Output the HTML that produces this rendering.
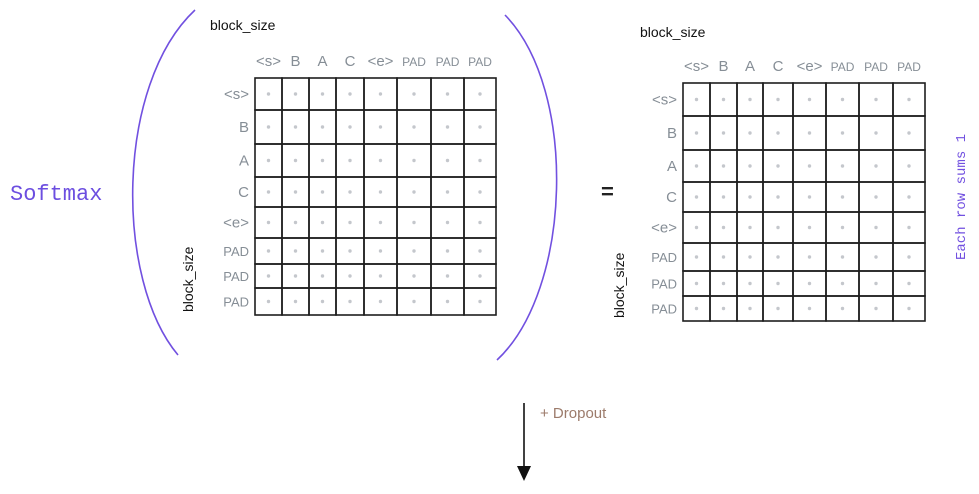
<!DOCTYPE html>
<html><head><meta charset="utf-8"><style>
body{margin:0;background:#fff;width:979px;height:489px;overflow:hidden}
svg text{font-family:"Liberation Sans",sans-serif}
</style></head><body>
<svg id="s" width="979" height="489">
<path d="M195,10 C115,85 115,280 178,355" fill="none" stroke="#7150e0" stroke-width="1.6"/>
<path d="M505,15 C578,90 572,290 497,360" fill="none" stroke="#7150e0" stroke-width="1.6"/>
<text x="10" y="200" font-size="22" fill="#6c4ee0" style="font-family:'Liberation Mono',monospace">Softmax</text>
<text x="601" y="199" font-size="22" font-weight="bold" fill="#222">=</text>
<text x="210" y="30" font-size="14" fill="#111">block_size</text>
<text x="640" y="37" font-size="14" fill="#111">block_size</text>
<text transform="translate(193,312) rotate(-90)" font-size="14" fill="#111">block_size</text>
<text transform="translate(624,318) rotate(-90)" font-size="14" fill="#111">block_size</text>
<text transform="translate(965,260) rotate(-90)" font-size="14" fill="#7150e0" style="font-family:'Liberation Mono',monospace">Each row sums 1</text>
<line x1="524" y1="403" x2="524" y2="470" stroke="#111" stroke-width="1.6"/>
<path d="M517,466 L524,481 L531,466 Z" fill="#111"/>
<text x="540" y="418" font-size="15" fill="#9c7b6b">+ Dropout</text>
</svg>
<script>
const tokens=["<s>","B","A","C","<e>","PAD","PAD","PAD"];
const leftCols=[255,282,309,336,364,397,431,464,496];
const leftRows=[78,110,144,177,207,238,264,288,315];
const rightCols=[683,710,737,763,793,826,859,893,925];
const rightRows=[83,116,150,182,212,243,271,296,321];
const svg=document.getElementById('s');
const NS='http://www.w3.org/2000/svg';
function grid(cols,rows,name){
  const g=document.createElementNS(NS,'g');
  
  
  svg.appendChild(g);
  for(let i=0;i<cols.length-1;i++)for(let j=0;j<rows.length-1;j++){
    const r=document.createElementNS(NS,'rect');
    r.setAttribute('x',cols[i]);r.setAttribute('y',rows[j]);
    r.setAttribute('width',cols[i+1]-cols[i]);r.setAttribute('height',rows[j+1]-rows[j]);
    r.setAttribute('fill','none');r.setAttribute('stroke','#1e1e1e');r.setAttribute('stroke-width','1.6');
    
    
    g.appendChild(r);
    const c=document.createElementNS(NS,'circle');
    c.setAttribute('cx',(cols[i]+cols[i+1])/2);c.setAttribute('cy',(rows[j]+rows[j+1])/2);
    c.setAttribute('r','1.7');c.setAttribute('fill','#c4c7cc');
    
    
    g.appendChild(c);
  }
  tokens.forEach((t,i)=>{
    const tx=document.createElementNS(NS,'text');
    tx.setAttribute('x',(cols[i]+cols[i+1])/2);tx.setAttribute('y',cols===leftCols?66:71);
    tx.setAttribute('text-anchor','middle');tx.setAttribute('font-size',t==='PAD'?'12':'15');tx.setAttribute('fill','#868e96');
    tx.textContent=t;
    
    
    g.appendChild(tx);
    const ty=document.createElementNS(NS,'text');
    ty.setAttribute('x',cols[0]-6);ty.setAttribute('y',(rows[i]+rows[i+1])/2+5);
    ty.setAttribute('text-anchor','end');ty.setAttribute('font-size',t==='PAD'?'13':'15');ty.setAttribute('fill','#868e96');
    ty.textContent=t;
    
    
    g.appendChild(ty);
  });
}
grid(leftCols,leftRows,'input-matrix');
grid(rightCols,rightRows,'output-matrix');
</script>
</body></html>
